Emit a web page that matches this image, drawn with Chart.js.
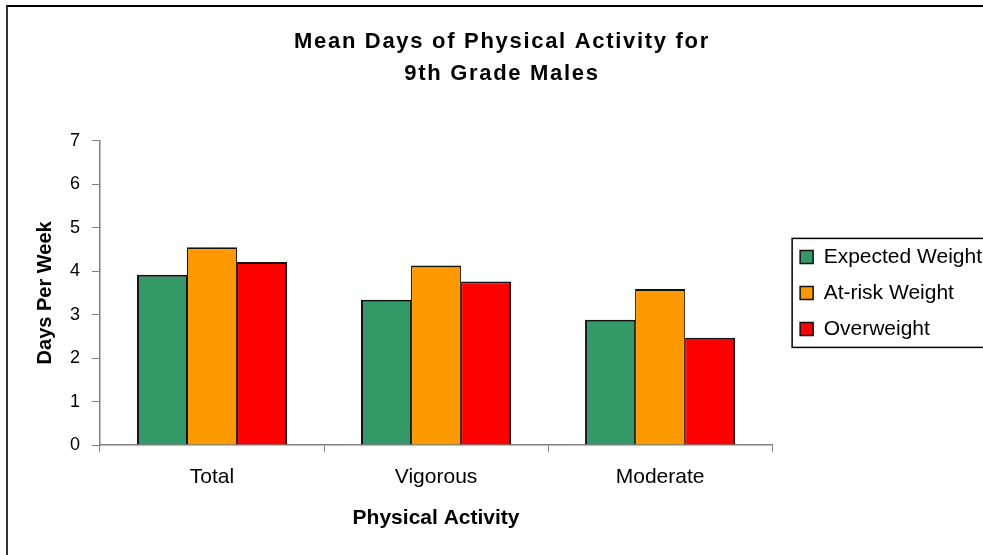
<!DOCTYPE html>
<html>
<head>
<meta charset="utf-8">
<script src="https://cdn.jsdelivr.net/npm/chart.js@4/dist/chart.umd.min.js"></script>
<style>
  html, body { margin: 0; padding: 0; background: #fff; overflow: hidden; }
  #wrap { position: relative; width: 983px; height: 555px; }
  #frame {
    position: absolute; left: 6px; top: 5px; width: 1100px; height: 1100px;
    border-left: 2px solid #333; border-top: 2px solid #000; pointer-events: none;
  }
</style>
</head>
<body>
<div id="wrap">
  <canvas id="chart" width="983" height="555"></canvas>
  <div id="frame"></div>
</div>
<script>
const categories = ["Total", "Vigorous", "Moderate"];
const seriesNames = ["Expected Weight", "At-risk Weight", "Overweight"];
const expectedWeight = [3.92, 3.34, 2.88];
const atRiskWeight = [4.55, 4.13, 3.59];
const overweight = [4.21, 3.76, 2.47];
const yTicks = [0, 1, 2, 3, 4, 5, 6, 7];
const colors = ["#339966", "#FF9900", "#FF0000"];

const FONT = '"Liberation Sans", Arial, sans-serif';
Chart.defaults.font.family = FONT;
Chart.defaults.color = "#000";

// frame of the original chart runs past the window on the right, the title
// is centred on that frame and not on the canvas
const FRAME_LEFT = 7, FRAME_RIGHT = 997;
const LEGEND_GAP = 28; // chart area right edge -> first legend square
const TITLE_SPACING = "1.7px"; // the original title is drawn a bit letter-spaced

// bars in a group touch, so only draw half the outline where they meet
const barBorders = [
  { top: 2, left: 2, right: 1, bottom: 0 },
  { top: 2, left: 1, right: 1, bottom: 0 },
  { top: 2, left: 1, right: 2, bottom: 0 },
];

const layoutTweaks = {
  id: "layoutTweaks",
  afterLayout(chart) {
    const t = chart.titleBlock;
    if (t) {
      t.left = FRAME_LEFT;
      t.right = FRAME_RIGHT;
      if (!t._spaced) {
        const draw = t.draw;
        t.draw = function (...args) {
          this.ctx.save();
          this.ctx.letterSpacing = TITLE_SPACING;
          draw.apply(this, args);
          this.ctx.restore();
        };
        t._spaced = true;
      }
    }
    const lg = chart.legend;
    if (lg) {
      // legend is full height by default; centre it on the plot instead
      const pad = lg.options.labels.padding;
      const dx = chart.chartArea.right + LEGEND_GAP - pad - lg.left;
      lg.left += dx; lg.right += dx;
      lg.top = chart.chartArea.top;
      lg.bottom = chart.chartArea.bottom;
    }
  },
  afterDraw(chart) {
    const lg = chart.legend;
    if (!lg || !lg.columnSizes || !lg.columnSizes.length) return;
    const opts = lg.options.labels;
    const pad = opts.padding;
    const ih = Math.max(opts.font.size, opts.boxHeight);
    const colH = lg.columnSizes[0].height;
    const startY = (lg.top + pad + lg.bottom - colH) / 2;
    const n = lg.legendItems.length;
    const y0 = startY - 8;
    const y1 = startY + n * ih + (n - 1) * pad + 8;
    const x0 = lg.left + pad - 8;
    const ctx = chart.ctx;
    ctx.save();
    ctx.strokeStyle = "#000";
    ctx.lineWidth = 1.5;
    ctx.strokeRect(x0, y0, 400, y1 - y0);
    ctx.restore();
  }
};

new Chart(document.getElementById("chart").getContext("2d"), {
  type: "bar",
  data: {
    labels: categories,
    datasets: [expectedWeight, atRiskWeight, overweight].map((data, i) => ({
      label: seriesNames[i],
      data,
      backgroundColor: colors[i],
      borderColor: "#111",
      borderWidth: barBorders[i],
      barPercentage: 1.0,
      categoryPercentage: 0.67,
    })),
  },
  options: {
    responsive: false,
    animation: false,
    layout: { padding: { left: 0, right: 4, top: 0, bottom: 0 } },
    plugins: {
      title: {
        display: true,
        text: ["Mean Days of Physical Activity for", "9th Grade Males"],
        color: "#000",
        font: { size: 22, weight: "bold", lineHeight: 1.45 },
        padding: { top: 26, bottom: 51 },
      },
      legend: {
        position: "right",
        labels: {
          boxWidth: 13,
          boxHeight: 13,
          padding: 15,
          color: "#000",
          font: { size: 21 },
          generateLabels: (chart) =>
            Chart.defaults.plugins.legend.labels.generateLabels(chart).map((item) => ({ ...item, lineWidth: 1.5 })),
        },
      },
      tooltip: { enabled: false },
    },
    scales: {
      x: {
        grid: { drawOnChartArea: false, tickLength: 7, color: "#808080", offset: true },
        border: { color: "#808080", width: 1.5 },
        ticks: { color: "#000", font: { size: 21 }, padding: 13 },
        title: {
          display: true,
          text: "Physical Activity",
          color: "#000",
          font: { size: 21, weight: "bold" },
          padding: { top: 0, bottom: 24 },
        },
        afterFit: (s) => { s.height = 110; },
      },
      y: {
        min: yTicks[0],
        max: yTicks[yTicks.length - 1],
        ticks: { stepSize: 1, color: "#000", font: { size: 18 }, padding: 12 },
        grid: { drawOnChartArea: false, tickLength: 8, color: "#808080" },
        border: { color: "#808080", width: 1.5 },
        title: {
          display: true,
          text: "Days Per Week",
          color: "#000",
          font: { size: 20, weight: "bold" },
          padding: { top: 33, bottom: 0 },
        },
        afterFit: (s) => { s.width = 100; },
      },
    },
  },
  plugins: [layoutTweaks],
});
</script>
</body>
</html>
